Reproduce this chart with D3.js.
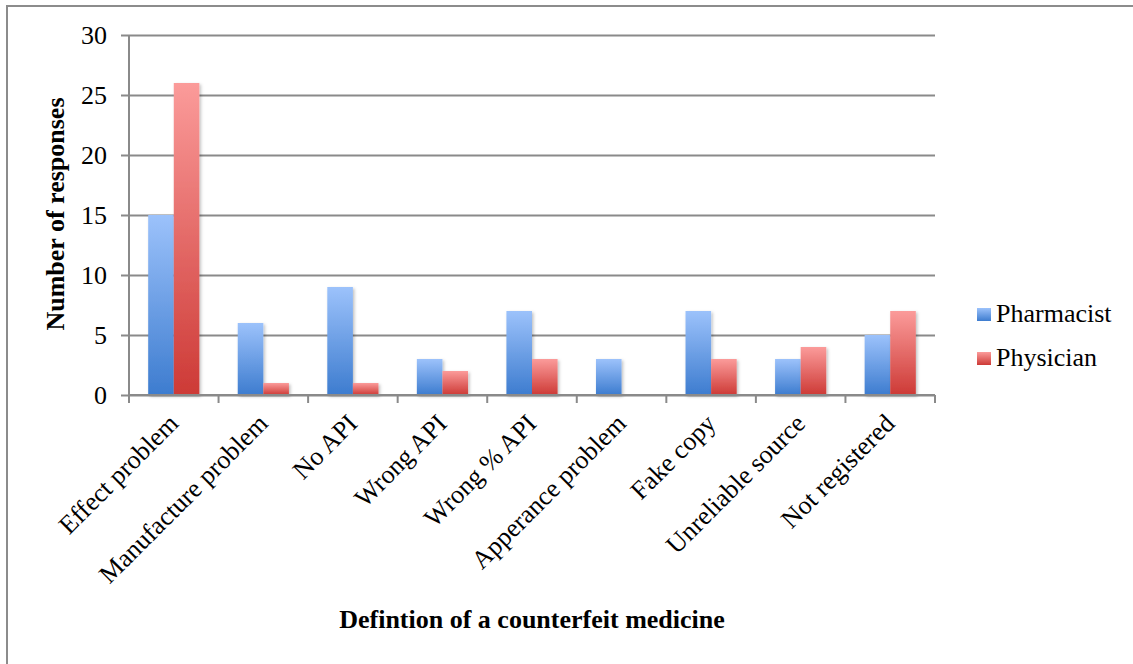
<!DOCTYPE html>
<html>
<head>
<meta charset="utf-8">
<script src="https://cdn.jsdelivr.net/npm/d3@7"></script>
<style>
  html, body { margin: 0; padding: 0; background: #fff; }
  svg { display: block; }
</style>
</head>
<body>
<svg id="chart" width="1133" height="664"></svg>
<script>
// Responses per definition of a counterfeit medicine
const categories = ["Effect problem", "Manufacture problem", "No API", "Wrong API", "Wrong % API",
                    "Apperance problem", "Fake copy", "Unreliable source", "Not registered"];
const seriesNames = ["Pharmacist", "Physician"];
const pharmacist = [15, 6, 9, 3, 7, 3, 7, 3, 5];
const physician  = [26, 1, 1, 2, 3, 0, 3, 4, 7];
const yTicks = [0, 5, 10, 15, 20, 25, 30];

const svg = d3.select("#chart");
const W = 1133, H = 664;
const m = { left: 129, right: 935, top: 35, bottom: 395 };
const FS = 26;
const SERIF = "'Liberation Serif', 'Times New Roman', serif";

const defs = svg.append("defs");
const grads = [
  { id: "gPharm", top: "#9cc2fb", bottom: "#3d7ccf" },
  { id: "gPhys",  top: "#fb9b9a", bottom: "#cd3a36" }
];
grads.forEach(g => {
  const lg = defs.append("linearGradient").attr("id", g.id)
    .attr("x1", 0).attr("y1", 0).attr("x2", 0).attr("y2", 1);
  lg.append("stop").attr("offset", "0%").attr("stop-color", g.top);
  lg.append("stop").attr("offset", "100%").attr("stop-color", g.bottom);
});
const shadow = defs.append("filter").attr("id", "shadow")
  .attr("x", "-20%").attr("y", "-5%").attr("width", "150%").attr("height", "115%");
shadow.append("feDropShadow").attr("dx", 1.5).attr("dy", 1.5).attr("stdDeviation", 1.5)
  .attr("flood-color", "#000").attr("flood-opacity", 0.25);

// outer frame
svg.append("rect").attr("x", 7).attr("y", 6).attr("width", W).attr("height", H)
  .attr("fill", "none").attr("stroke", "#8c8c8c").attr("stroke-width", 2);

const x = d3.scaleBand().domain(categories).range([m.left, m.right]).paddingInner(0).paddingOuter(0);
const y = d3.scaleLinear().domain([0, 30]).range([m.bottom, m.top]);
const inner = d3.scaleBand().domain(seriesNames).range([0, x.bandwidth()]).paddingInner(0).paddingOuter(0.75);

const gridColor = "#8a8a8a";

// horizontal gridlines with left tick stubs
const yAxis = d3.axisLeft(y).tickValues(yTicks).tickSize(m.right - m.left + 8).tickPadding(14)
  .tickFormat(d3.format("d"));
const gy = svg.append("g").attr("transform", `translate(${m.right},0)`).call(yAxis);
gy.select(".domain").remove();
gy.selectAll(".tick line").attr("stroke", gridColor).attr("stroke-width", 2);
gy.selectAll(".tick text")
  .style("font-family", SERIF).style("font-size", FS + "px")
  .attr("fill", "#000").attr("dy", "0.34em");

// y axis line
svg.append("line").attr("x1", m.left).attr("x2", m.left).attr("y1", m.top).attr("y2", m.bottom)
  .attr("stroke", gridColor).attr("stroke-width", 2);

// bars
const seriesData = [pharmacist, physician];
const fills = ["url(#gPharm)", "url(#gPhys)"];
seriesNames.forEach((name, si) => {
  svg.append("g").attr("filter", "url(#shadow)")
    .selectAll("rect").data(categories.map((c, i) => ({ c, v: seriesData[si][i] })))
    .join("rect")
    .attr("x", d => x(d.c) + inner(name))
    .attr("y", d => y(d.v))
    .attr("width", inner.bandwidth())
    .attr("height", d => y(0) - y(d.v))
    .attr("fill", fills[si]);
});

// x axis with tick marks at category boundaries
svg.append("line").attr("x1", m.left).attr("x2", m.right).attr("y1", m.bottom).attr("y2", m.bottom)
  .attr("stroke", gridColor).attr("stroke-width", 2);
const bounds = categories.map(c => x(c)).concat([m.right]);
svg.append("g").selectAll("line").data(bounds).join("line")
  .attr("x1", d => d).attr("x2", d => d).attr("y1", m.bottom).attr("y2", m.bottom + 8)
  .attr("stroke", gridColor).attr("stroke-width", 2);

// rotated category labels
svg.append("g").selectAll("text").data(categories).join("text")
  .attr("transform", d => `translate(${x(d) + x.bandwidth() / 2 + 6},${m.bottom + 30}) rotate(-45)`)
  .attr("text-anchor", "end")
  .style("font-family", SERIF).style("font-size", FS + "px")
  .attr("fill", "#000")
  .text(d => d);

// axis titles
svg.append("text").attr("transform", `translate(64,214) rotate(-90)`)
  .attr("text-anchor", "middle")
  .style("font-family", SERIF).style("font-size", FS + "px").style("font-weight", "bold")
  .text("Number of responses");
svg.append("text").attr("x", 532).attr("y", 628)
  .attr("text-anchor", "middle")
  .style("font-family", SERIF).style("font-size", FS + "px").style("font-weight", "bold")
  .text("Defintion of a counterfeit medicine");

// legend
const legend = svg.append("g").attr("transform", "translate(977,308)");
seriesNames.forEach((name, i) => {
  const g = legend.append("g").attr("transform", `translate(0,${i * 44})`);
  g.append("rect").attr("width", 14).attr("height", 13).attr("fill", fills[i]);
  g.append("text").attr("x", 19).attr("y", 14)
    .style("font-family", SERIF).style("font-size", FS + "px")
    .attr("fill", "#000").text(name);
});
</script>
</body>
</html>
